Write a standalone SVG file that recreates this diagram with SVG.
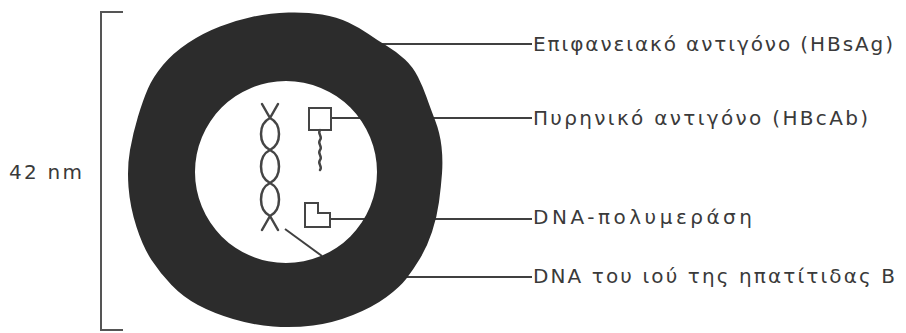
<svg xmlns="http://www.w3.org/2000/svg" width="906" height="333" viewBox="0 0 906 333">
  <style>
    .lbl { font-family: "DejaVu Sans", "Liberation Sans", Arial, sans-serif; font-size: 20px; fill: #3a3a3a; }
    .lead { stroke: #404040; stroke-width: 2; fill: none; }
    .ink { stroke: #454545; stroke-width: 2.5; fill: none; stroke-linecap: round; stroke-linejoin: round; }
    .part { stroke: #454545; stroke-width: 2; fill: #ffffff; }
  </style>
  <rect width="906" height="333" fill="#ffffff"/>

  <!-- leader lines, drawn under the envelope so only the ends show -->
  <g id="connectors">
    <line class="lead" x1="372" y1="44" x2="532" y2="44"/>
    <line class="lead" x1="331" y1="118" x2="532" y2="118"/>
    <line class="lead" x1="330" y1="219" x2="532" y2="219"/>
    <line class="lead" x1="402" y1="277" x2="532" y2="277"/>
    <line class="lead" x1="285" y1="229" x2="322" y2="256"/>
  </g>

  <!-- scale bracket -->
  <g id="scale">
    <path d="M123,12 H101 V330 H123" fill="none" stroke="#555" stroke-width="2"/>
    <text class="lbl" x="9" y="179" textLength="73" lengthAdjust="spacing">42 nm</text>
  </g>

  <!-- viral envelope with core cavity -->
  <g id="envelope">
    <path fill="#2c2c2c" fill-rule="evenodd" d="M322,14.5 Q337,17 348.5,22.5 Q360,28 368.5,34 Q377,40 387,46 Q397,52 405,59.5 Q413,67 418,77 Q423,87 426.5,97 Q430,107 435,120 Q440,133 441.5,146.5 Q443,160 442,173.5 Q441,187 439,202 Q437,217 432,232 Q427,247 420,258.5 Q413,270 406.5,278.5 Q400,287 386.5,297 Q373,307 353,315 Q333,323 313,325.5 Q293,328 273,326.5 Q253,325 233,319 Q213,313 198,305 Q183,297 171.5,285 Q160,273 151.5,260 Q143,247 136.5,227 Q130,207 128.5,187 Q127,167 130,150 Q133,133 138,116.5 Q143,100 148,88.5 Q153,77 163,65 Q173,53 188,43 Q203,33 220,26.5 Q237,20 253.5,16.5 Q270,13 288.5,12.5 Q307,12 322,14.5 Z M195,172 A91,91 0 1,0 377,172 A91,91 0 1,0 195,172 Z"/>
  </g>

  <!-- double-stranded DNA -->
  <g id="dna">
    <path class="ink" d="M262,104 L270,118 C282,124 282,144 270,150 C258,156 258,177 270,183 C282,189 282,210 270,216 L262,230"/>
    <path class="ink" d="M278,104 L270,118 C258,124 258,144 270,150 C282,156 282,177 270,183 C258,189 258,210 270,216 L278,230"/>
  </g>

  <!-- core antigen -->
  <g id="core-antigen">
    <rect class="part" x="309" y="108" width="22" height="22"/>
    <path class="ink" stroke-width="2" d="M320,130 c-3,4 3,6 0,10 c-3,4 3,6 0,10 c-3,4 3,6 0,10 c-3,4 3,6 0,10"/>
  </g>

  <!-- polymerase -->
  <g id="polymerase">
    <polygon class="part" points="305,203 318,203 318,213 330,213 330,227 305,227"/>
  </g>

  <!-- labels -->
  <g id="labels">
    <text class="lbl" x="533" y="51" textLength="360" lengthAdjust="spacing">Επιφανειακό αντιγόνο (HBsAg)</text>
    <text class="lbl" x="533" y="125" textLength="335" lengthAdjust="spacing">Πυρηνικό αντιγόνο (HBcAb)</text>
    <text class="lbl" x="533" y="224" textLength="219" lengthAdjust="spacing">DNA-πολυμεράση</text>
    <text class="lbl" x="533" y="283" textLength="362" lengthAdjust="spacing">DNA του ιού της ηπατίτιδας Β</text>
  </g>
</svg>
